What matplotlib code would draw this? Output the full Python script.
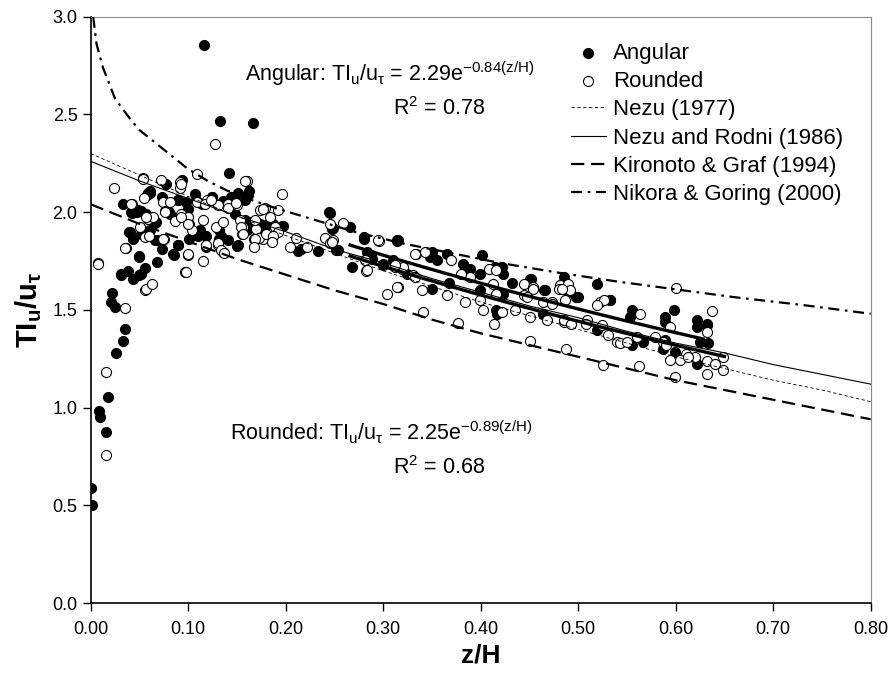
import matplotlib
matplotlib.use("Agg")
import matplotlib.pyplot as plt
import numpy as np

plt.rcParams['font.family'] = ['Liberation Sans', 'DejaVu Sans']
plt.rcParams['mathtext.fontset'] = 'custom'
plt.rcParams['mathtext.rm'] = 'Liberation Sans'
plt.rcParams['mathtext.it'] = 'Liberation Sans:italic'
plt.rcParams['mathtext.bf'] = 'Liberation Sans:bold'

# измерения: угловатые частицы (z/H, TIu/u*)
angular_x = [0.000, 0.001, 0.008, 0.009, 0.016, 0.018, 0.026, 0.033, 0.035, 0.025, 0.0205, 0.022,
             0.039, 0.033, 0.031, 0.0386, 0.043, 0.050, 0.056, 0.0495, 0.068, 0.085, 0.090,
             0.116, 0.133, 0.166, 0.142, 0.162, 0.161,
             0.077, 0.094, 0.059, 0.061, 0.073, 0.042, 0.047, 0.052, 0.057, 0.066, 0.081, 0.090,
             0.098, 0.101, 0.107, 0.114, 0.124, 0.136, 0.146, 0.158,
             0.174, 0.187, 0.196, 0.213, 0.216, 0.233, 0.245, 0.248, 0.252, 0.266, 0.268,
             0.061, 0.068, 0.073, 0.101, 0.112, 0.118, 0.132, 0.141, 0.150, 0.155, 0.162, 0.0437, 0.052,
             0.254, 0.280, 0.3155, 0.283, 0.287, 0.300, 0.324, 0.348, 0.355, 0.365, 0.382, 0.389,
             0.399, 0.415, 0.432, 0.4505, 0.466, 0.498, 0.519, 0.533, 0.423, 0.401, 0.485, 0.423, 0.4164,
             0.3145, 0.350, 0.387, 0.4215, 0.452, 0.465, 0.350, 0.367, 0.399, 0.416, 0.464, 0.310,
             0.490, 0.500, 0.5326, 0.555, 0.553, 0.598, 0.589, 0.589, 0.6215, 0.632, 0.6215, 0.519,
             0.555, 0.5668, 0.587, 0.599, 0.625, 0.633, 0.6215, 0.589, 0.632,
             0.0605, 0.058, 0.0417, 0.0485, 0.040, 0.050, 0.067, 0.0895, 0.080, 0.100, 0.066, 0.0895,
             0.0845, 0.031, 0.052, 0.108, 0.124, 0.110, 0.1186, 0.132, 0.134, 0.141, 0.144, 0.151,
             0.1476, 0.158, 0.151,
             0.180, 0.1975, 0.160, 0.177, 0.244, 0.247, 0.280, 0.288, 0.300, 0.314]
angular_y = [0.59, 0.50, 0.98, 0.95, 0.876, 1.055, 1.28, 1.34, 1.40, 1.515, 1.54, 1.586,
             1.90, 2.04, 1.677, 1.70, 1.66, 1.68, 1.716, 1.77, 1.745, 1.78, 1.83,
             2.856, 2.464, 2.457, 2.20, 2.108, 2.09,
             2.142, 2.163, 2.10, 2.10, 2.077, 1.997, 2.00, 2.006, 1.99, 1.944, 1.99, 2.06,
             2.05, 1.94, 2.095, 2.043, 2.077, 2.055, 2.06, 2.06,
             1.94, 1.94, 1.927, 1.80, 1.81, 1.80, 1.997, 1.92, 1.805, 1.924, 1.72,
             1.907, 1.856, 1.813, 1.864, 1.907, 1.82, 1.864, 1.856, 1.825, 1.95, 1.95, 1.864, 1.89,
             1.805, 1.873, 1.856, 1.796, 1.78, 1.733, 1.686, 1.771, 1.754, 1.788, 1.737, 1.711,
             1.686, 1.72, 1.638, 1.66, 1.60, 1.566, 1.634, 1.549, 1.686, 1.78, 1.668, 1.583, 1.481,
             1.852, 1.796, 1.677, 1.72, 1.66, 1.60, 1.609, 1.64, 1.60, 1.498, 1.481, 1.754,
             1.592, 1.566, 1.553, 1.501, 1.464, 1.498, 1.464, 1.44, 1.447, 1.43, 1.413, 1.396,
             1.319, 1.336, 1.302, 1.285, 1.336, 1.328, 1.225, 1.345, 1.421,
             2.108, 2.09, 2.00, 2.01, 1.90, 1.774, 1.95, 2.06, 2.00, 2.018, 1.856, 1.83,
             1.788, 1.686, 1.686, 2.06, 2.08, 1.88, 1.88, 1.907, 1.88, 2.043, 2.077, 2.10,
             1.99, 1.958, 1.83,
             1.932, 1.927, 1.907, 1.907, 2.00, 1.915, 1.864, 1.762, 1.728, 1.856]

# измерения: окатанные частицы
rounded_x = [0.016, 0.016, 0.035, 0.056, 0.007, 0.036, 0.057, 0.0625, 0.097, 0.100, 0.115, 0.024,
             0.127, 0.109, 0.160, 0.196, 0.054, 0.072, 0.0916, 0.092, 0.055, 0.074, 0.042, 0.059,
             0.064, 0.076, 0.086, 0.0926, 0.100, 0.109, 0.119, 0.131, 0.141, 0.150, 0.174, 0.179,
             0.192, 0.184, 0.170, 0.177, 0.186, 0.211, 0.2215, 0.240, 0.245, 0.245, 0.259,
             0.0557, 0.075, 0.0995, 0.1036, 0.118, 0.131, 0.136, 0.155, 0.156, 0.167, 0.173, 0.180, 0.0507,
             0.249, 0.296, 0.281, 0.282, 0.312, 0.319, 0.331, 0.334, 0.343, 0.370, 0.389, 0.380,
             0.408, 0.413, 0.444, 0.454, 0.481, 0.490, 0.492, 0.522,
             0.3036, 0.3155, 0.3395, 0.365, 0.384, 0.399, 0.4027, 0.435, 0.4505, 0.4677, 0.485, 0.509,
             0.5395, 0.341, 0.377, 0.4137, 0.4505, 0.488, 0.525, 0.444, 0.464,
             0.333, 0.416, 0.454, 0.480, 0.416, 0.422, 0.447, 0.473, 0.3206, 0.333,
             0.483, 0.486, 0.6003, 0.526, 0.519, 0.5634, 0.637, 0.632, 0.594, 0.473, 0.485, 0.493,
             0.508, 0.524, 0.531, 0.543, 0.550, 0.560, 0.579, 0.587, 0.590, 0.611, 0.620, 0.632, 0.649,
             0.632, 0.649, 0.640, 0.599, 0.562, 0.594, 0.604, 0.613,
             0.0537, 0.093, 0.1587, 0.0417, 0.0355, 0.0595, 0.057, 0.076, 0.081, 0.093, 0.100, 0.074,
             0.0974, 0.0075, 0.117, 0.123, 0.115, 0.129, 0.1357, 0.141, 0.149, 0.153, 0.1546,
             0.156, 0.1306, 0.134, 0.1367,
             0.177, 0.168, 0.189, 0.192, 0.187, 0.168, 0.167, 0.186, 0.2044, 0.247, 0.295, 0.283,
             0.312, 0.314]
rounded_y = [0.757, 1.18, 1.507, 1.60, 1.74, 1.816, 1.605, 1.63, 1.694, 1.78, 1.75, 2.125,
             2.347, 2.193, 2.161, 2.093, 2.174, 2.163, 2.154, 2.123, 2.07, 2.05, 2.04, 1.967,
             1.975, 2.004, 1.953, 1.99, 1.975, 2.05, 2.06, 2.035, 2.043, 2.038, 2.013, 2.023,
             2.013, 1.975, 1.916, 1.865, 1.88, 1.87, 1.82, 1.87, 1.84, 1.94, 1.946,
             1.873, 1.864, 1.788, 1.907, 1.834, 1.83, 1.796, 1.89, 1.924, 1.864, 1.87, 1.89, 1.924,
             1.856, 1.852, 1.754, 1.70, 1.72, 1.711, 1.677, 1.788, 1.796, 1.754, 1.668, 1.686,
             1.711, 1.634, 1.634, 1.617, 1.626, 1.634, 1.60, 1.54,
             1.583, 1.617, 1.60, 1.575, 1.54, 1.549, 1.498, 1.498, 1.464, 1.447, 1.438, 1.447,
             1.336, 1.489, 1.433, 1.43, 1.341, 1.302, 1.22, 1.575, 1.54,
             1.788, 1.703, 1.609, 1.609, 1.583, 1.49, 1.566, 1.54, 1.72, 1.67,
             1.609, 1.549, 1.612, 1.549, 1.523, 1.481, 1.493, 1.387, 1.413, 1.532, 1.447, 1.43,
             1.43, 1.421, 1.37, 1.328, 1.336, 1.361, 1.361, 1.336, 1.32, 1.276, 1.26, 1.24, 1.26,
             1.174, 1.191, 1.225, 1.157, 1.213, 1.242, 1.242, 1.26,
             2.17, 2.145, 2.16, 2.04, 1.816, 1.876, 1.975, 2.00, 2.05, 1.975, 1.94, 1.864,
             1.694, 1.737, 2.043, 2.063, 1.958, 1.924, 1.95, 2.02, 2.047, 1.958, 1.924,
             1.89, 1.84, 1.805, 1.79,
             2.018, 1.958, 1.924, 1.898, 1.88, 1.864, 1.82, 1.847, 1.82, 1.847, 1.856, 1.702,
             1.728, 1.617]

# эмпирические кривые других авторов
curve_x = [0.00, 0.05, 0.10, 0.15, 0.20, 0.25, 0.30, 0.35, 0.40, 0.45, 0.50,
           0.55, 0.60, 0.65, 0.70, 0.75, 0.80]
nezu_y = [2.30, 2.19, 2.08, 1.98, 1.88, 1.79, 1.70, 1.62, 1.54, 1.47, 1.40,
          1.33, 1.26, 1.20, 1.14, 1.09, 1.03]
nezu_rodi_y = [2.26, 2.16, 2.07, 1.98, 1.90, 1.81, 1.74, 1.66, 1.59, 1.52, 1.46,
               1.39, 1.33, 1.28, 1.22, 1.17, 1.12]
kironoto_y = [2.04, 1.94, 1.85, 1.76, 1.68, 1.60, 1.53, 1.45, 1.38, 1.32, 1.26,
              1.20, 1.14, 1.09, 1.04, 0.99, 0.94]
nikora_x = [0.0025, 0.006, 0.0125, 0.025, 0.04, 0.05, 0.065, 0.08, 0.10, 0.12, 0.14, 0.16,
            0.19, 0.23, 0.27, 0.32, 0.37, 0.42, 0.48, 0.54, 0.60, 0.66, 0.73, 0.80]
nikora_y = [3.00, 2.86, 2.74, 2.58, 2.48, 2.42, 2.36, 2.30, 2.22, 2.16, 2.11, 2.07,
            2.02, 1.96, 1.90, 1.84, 1.79, 1.74, 1.69, 1.645, 1.605, 1.565, 1.525, 1.48]

# аппроксимации: TIu/u* = a*exp(b*z/H), участок построения x0..x1
fit_angular = (2.29, -0.84, 0.266, 0.628)
fit_rounded = (2.25, -0.89, 0.266, 0.650)

fig = plt.figure(figsize=(8.93, 6.77), dpi=100)
ax = fig.add_axes([0.1016, 0.1093, 0.8734, 0.866])

ax.scatter(angular_x, angular_y, s=52, c='black', edgecolors='black', linewidths=0.8,
           zorder=3, label='Angular')
ax.scatter(rounded_x, rounded_y, s=52, c='white', edgecolors='black', linewidths=0.8,
           zorder=3, label='Rounded')

ax.plot(curve_x, nezu_y, color='black', lw=0.6, ls=(0, (4, 3)), zorder=4, label='Nezu (1977)')
ax.plot(curve_x, nezu_rodi_y, color='black', lw=0.8, ls='-', zorder=4, label='Nezu and Rodni (1986)')
ax.plot(curve_x, kironoto_y, color='black', lw=1.6, ls=(0, (6, 3)), zorder=4,
        label='Kironoto & Graf (1994)')
ax.plot(nikora_x, nikora_y, color='black', lw=1.6, ls=(0, (5, 2.5, 1.2, 2.5)), zorder=4,
        label='Nikora & Goring (2000)')

for a, b, x0, x1 in (fit_angular, fit_rounded):
    xs = np.linspace(x0, x1, 50)
    ax.plot(xs, a * np.exp(b * xs), color='black', lw=2.4, zorder=5)

ax.set_xlim(0, 0.8)
ax.set_ylim(0, 3.0)
ax.set_xticks(np.arange(0, 0.81, 0.1))
ax.set_yticks(np.arange(0, 3.01, 0.5))
ax.xaxis.set_major_formatter(matplotlib.ticker.FormatStrFormatter('%.2f'))
ax.yaxis.set_major_formatter(matplotlib.ticker.FormatStrFormatter('%.1f'))
ax.tick_params(direction='out', length=6, width=1, labelsize=13, top=False, right=False)
ax.tick_params(axis='x', pad=7)

for side in ('top', 'right'):
    ax.spines[side].set_color('#8c8c8c')
for side in ('left', 'bottom'):
    ax.spines[side].set_linewidth(1.2)

ax.set_xlabel('z/H', fontsize=19, fontweight='bold', labelpad=4)
ax.set_ylabel(r'$\mathbf{TI_u/u_\tau}$', fontsize=21, labelpad=6)

ax.text(0.158, 2.71, r'Angular: TI$_\mathregular{u}$/u$_\mathregular{\tau}$ = 2.29e$^\mathregular{-0.84(z/H)}$',
        fontsize=15.5, va='center')
ax.text(0.31, 2.53, r'R$^\mathregular{2}$ = 0.78', fontsize=15.5, va='center')
ax.text(0.143, 0.874, r'Rounded: TI$_\mathregular{u}$/u$_\mathregular{\tau}$ = 2.25e$^\mathregular{-0.89(z/H)}$',
        fontsize=15.5, va='center')
ax.text(0.31, 0.695, r'R$^\mathregular{2}$ = 0.68', fontsize=15.5, va='center')

ax.legend(loc='upper right', bbox_to_anchor=(0.99, 0.99), frameon=False, fontsize=16,
          handlelength=1.6, handletextpad=0.3, labelspacing=0.33, borderpad=0.4,
          scatterpoints=1)

fig.savefig('out.png', dpi=100)
